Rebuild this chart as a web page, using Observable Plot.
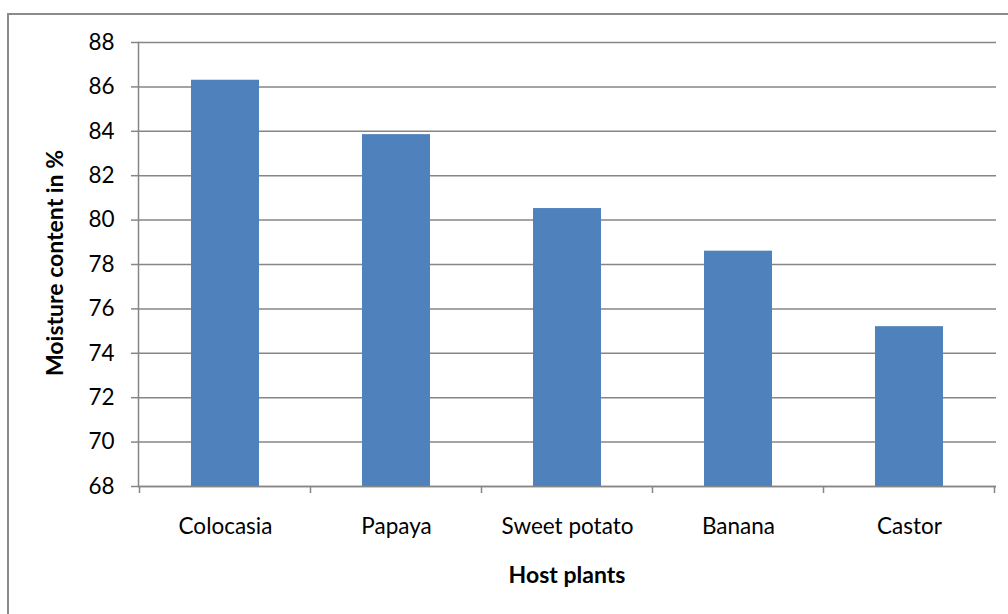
<!DOCTYPE html>
<html>
<head>
<meta charset="utf-8">
<script src="https://cdn.jsdelivr.net/npm/d3@7"></script>
<script src="https://cdn.jsdelivr.net/npm/@observablehq/plot@0.6"></script>
<style>
  html, body { margin: 0; padding: 0; background: #fff; overflow: hidden; }
  #wrap { position: relative; width: 1008px; height: 614px; }
  #border { position: absolute; left: 7px; top: 13px; width: 1100px; height: 700px;
            border: 2px solid #8a8a8a; box-sizing: border-box; }
  #chart { position: absolute; left: 0; top: 0; }
  text { font-family: Lato, "Open Sans", sans-serif; }
</style>
</head>
<body>
<div id="wrap"><div id="border"></div><div id="chart"></div></div>
<script>
// Moisture content of leaves from each host plant
const hostPlants = ["Colocasia", "Papaya", "Sweet potato", "Banana", "Castor"];
const moisture = [86.3, 83.85, 80.52, 78.6, 75.2];
const yTicks = [68, 70, 72, 74, 76, 78, 80, 82, 84, 86, 88];

const data = hostPlants.map((plant, i) => ({plant, value: moisture[i]}));

const gray = "#868686";
const font = "Lato, 'Open Sans', sans-serif";

const plot = Plot.plot({
  width: 1008,
  height: 614,
  marginTop: 42,
  marginBottom: 128,
  marginLeft: 138,
  marginRight: 12,
  style: {fontFamily: font, fontSize: "22px", color: "#000", background: "transparent"},
  x: {domain: hostPlants, paddingInner: 0.6, paddingOuter: 0.3, label: null},
  y: {domain: [68, 88], label: null},
  marks: [
    Plot.gridY(yTicks, {stroke: gray, strokeOpacity: 1, strokeWidth: 1.5}),
    Plot.barY(data, {x: "plant", y1: 68, y2: "value", fill: "#4f81bd", insetLeft: 0, insetRight: 0}),
    Plot.ruleY([68], {stroke: gray, strokeWidth: 1.5}),
    Plot.frame({anchor: "left", stroke: gray, strokeWidth: 1.5}),
    Plot.axisY({ticks: yTicks, tickSize: 7, tickPadding: 17, stroke: gray, strokeWidth: 1.5,
                fill: "#000", fontSize: 22.5, label: null}),
    Plot.axisX({tickSize: 0, tickPadding: 32, fill: "#000", fontSize: 22.5, label: null})
  ]
});

document.getElementById("chart").append(plot);

// Category boundary ticks on the x axis, taken from the band scale
const svg = d3.select(plot);
const xs = plot.scale("x");
const gap = (xs.step - xs.bandwidth) / 2;
const bounds = [...xs.domain.map(d => xs.apply(d) - gap),
                xs.apply(xs.domain[xs.domain.length - 1]) + xs.bandwidth + gap];
const yBase = plot.scale("y").apply(68);
svg.append("g")
  .attr("stroke", gray).attr("stroke-width", 1.5)
  .selectAll("line").data(bounds).join("line")
  .attr("x1", d => d).attr("x2", d => d)
  .attr("y1", yBase).attr("y2", yBase + 7);

// Axis titles
svg.append("text")
  .attr("transform", "translate(63,263) rotate(-90)")
  .attr("text-anchor", "middle")
  .attr("font-family", font).attr("font-weight", "bold").attr("font-size", 23)
  .text("Moisture content in %");
svg.append("text")
  .attr("x", 567).attr("y", 583)
  .attr("text-anchor", "middle")
  .attr("font-family", font).attr("font-weight", "bold").attr("font-size", 23)
  .text("Host plants");
</script>
</body>
</html>
